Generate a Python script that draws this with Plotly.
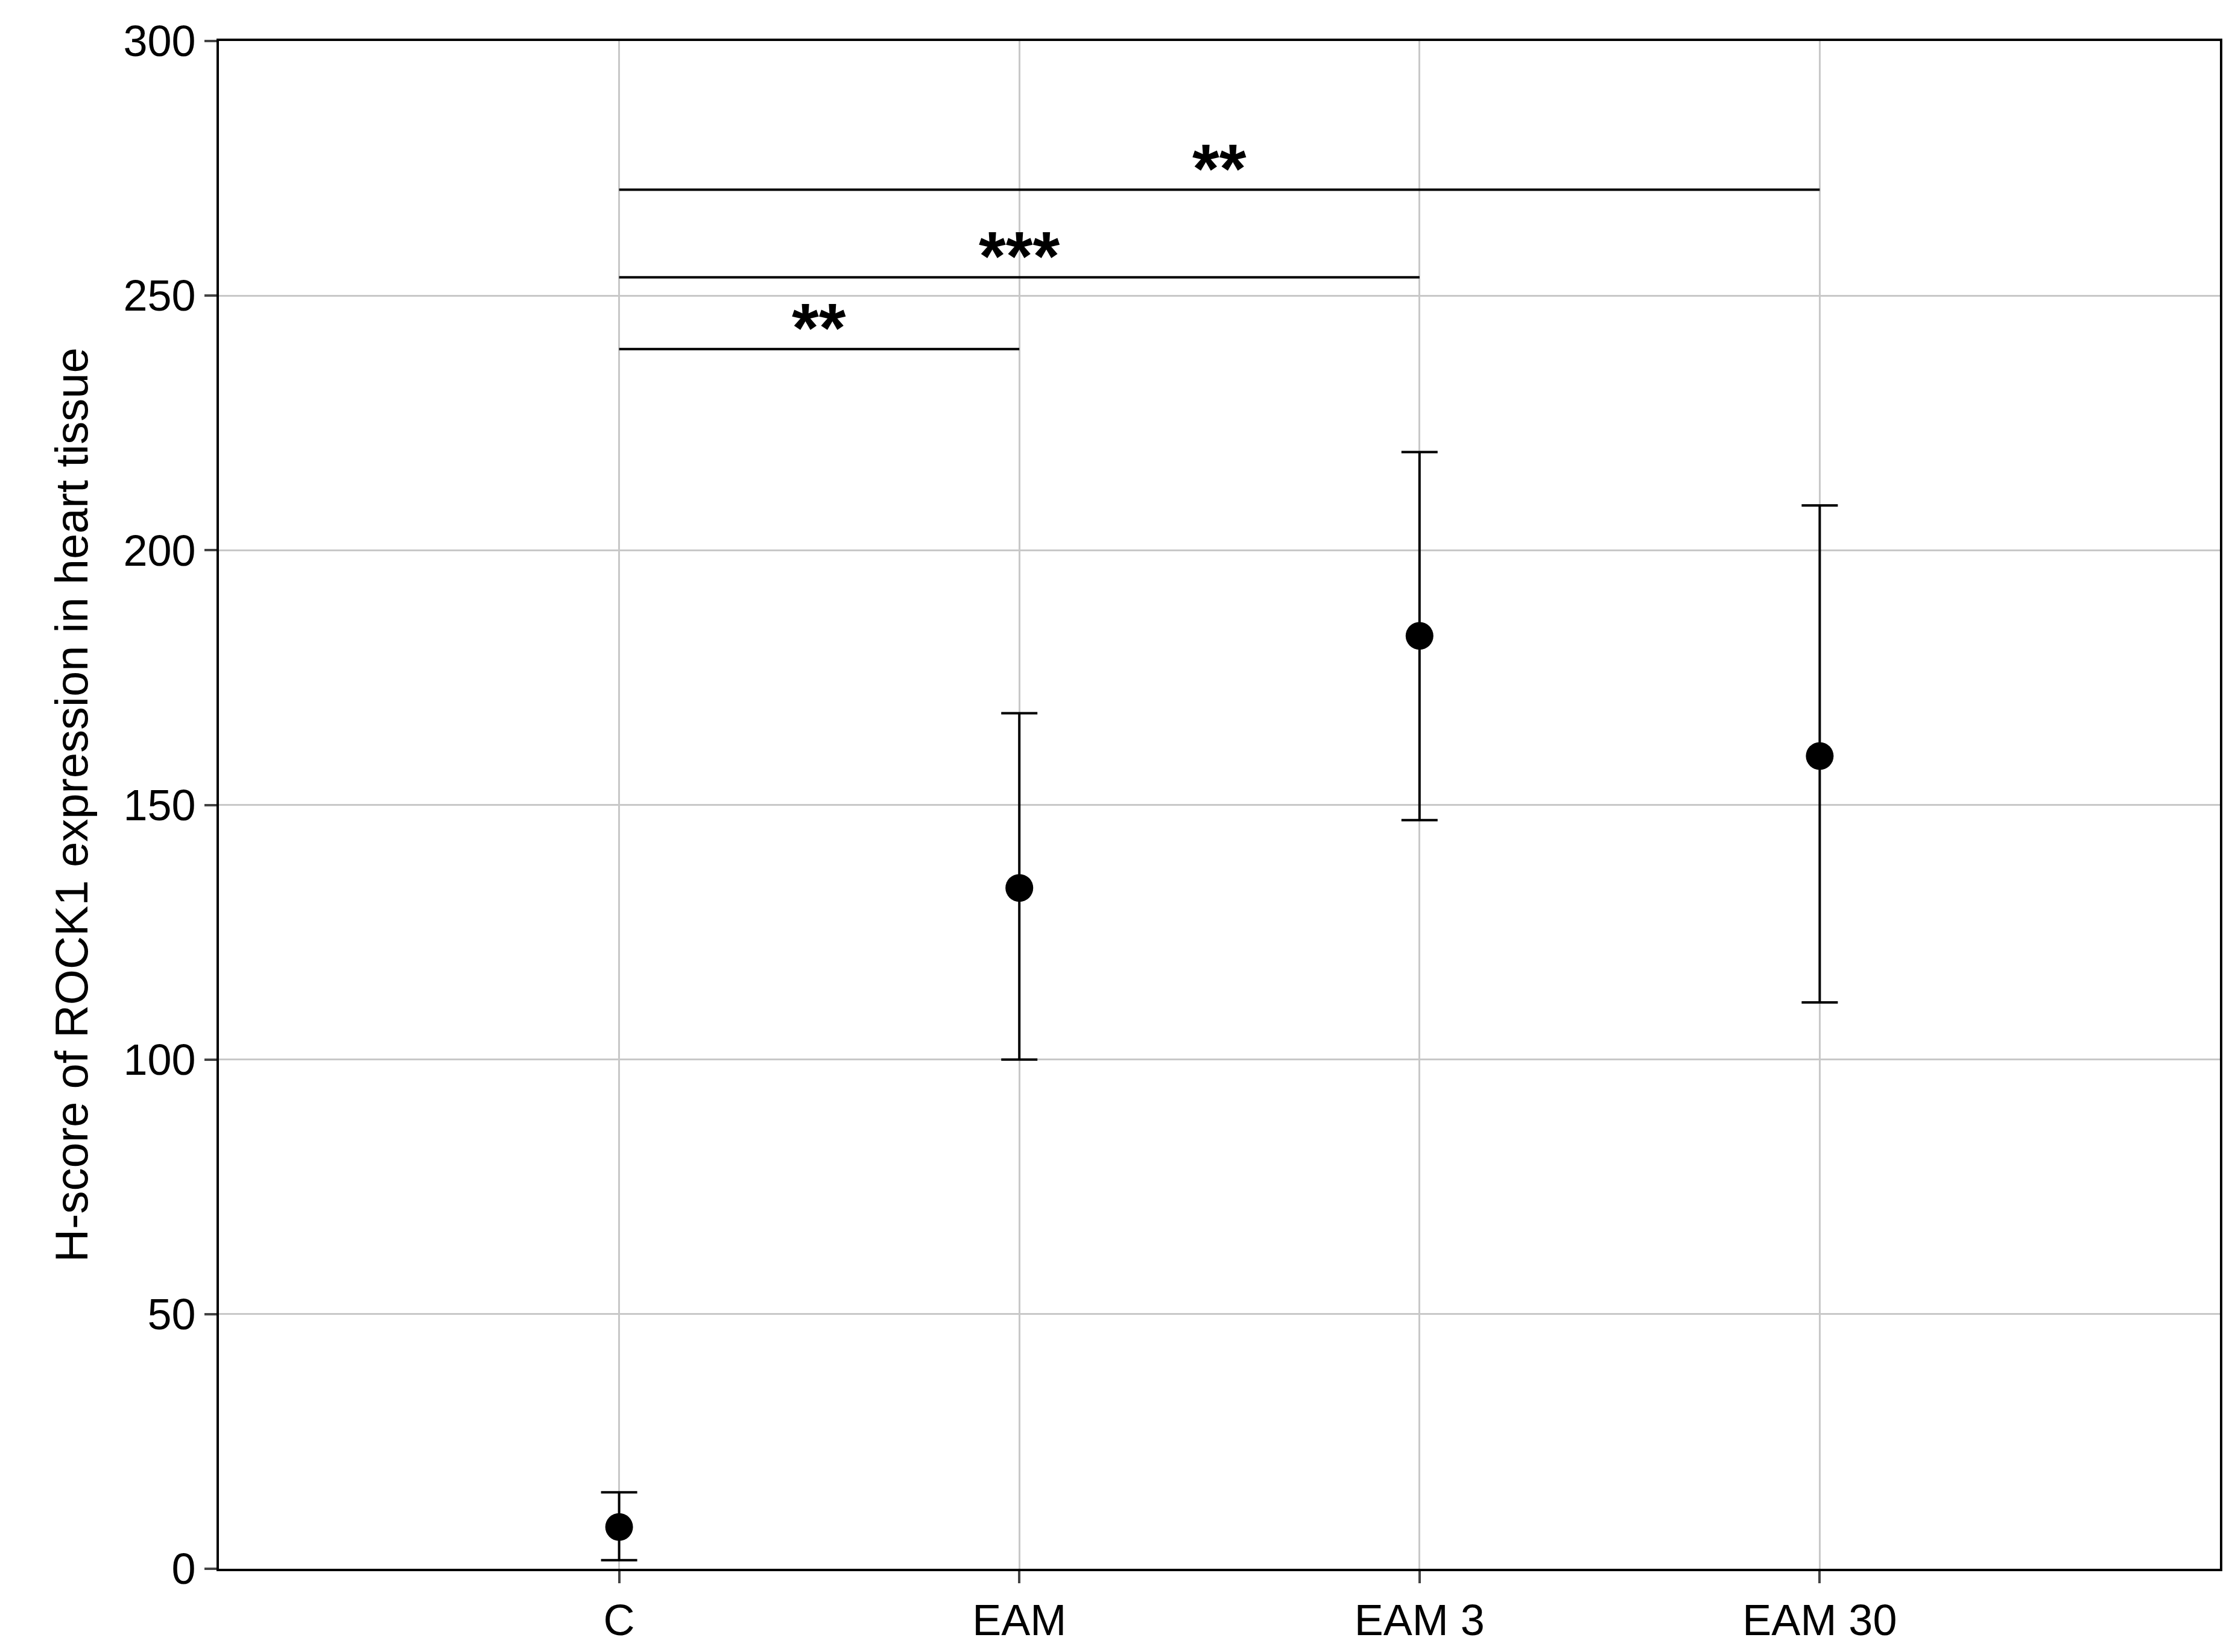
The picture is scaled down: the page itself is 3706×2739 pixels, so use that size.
import plotly.graph_objects as go

groups = ["C", "EAM", "EAM 3", "EAM 30"]
xpos = [1, 2, 3, 4]
means = [8.2, 133.7, 183.2, 159.6]
upper = [15.0, 168.0, 219.3, 208.8]
lower = [1.7, 100.0, 147.0, 111.2]
brackets = [(1, 2, 239.5, "**"), (1, 3, 253.6, "***"), (1, 4, 270.8, "**")]

fig = go.Figure()
fig.add_trace(go.Scatter(
    x=xpos, y=means, mode="markers",
    marker=dict(color="black", size=46),
    error_y=dict(type="data", symmetric=False,
                 array=[u - m for u, m in zip(upper, means)],
                 arrayminus=[m - l for m, l in zip(means, lower)],
                 color="black", thickness=4, width=30),
    showlegend=False))
for x0, x1, y, s in brackets:
    fig.add_shape(type="line", x0=x0, x1=x1, y0=y, y1=y, line=dict(color="black", width=4))
    fig.add_annotation(x=(x0 + x1) / 2, y=y, text="<b>" + s + "</b>", showarrow=False,
                       yanchor="bottom", yshift=-30, font=dict(size=115, color="black"))

fig.update_layout(
    width=3706, height=2739, plot_bgcolor="white", paper_bgcolor="white",
    margin=dict(l=355, r=33, t=60, b=146),
    font=dict(family="Liberation Sans", color="black"),
    xaxis=dict(range=[0, 5], tickvals=xpos, ticktext=groups, showgrid=True,
               gridcolor="#c8c8c8", gridwidth=3, showline=True, mirror=True,
               linecolor="black", linewidth=4, ticks="outside", ticklen=20,
               tickwidth=4, tickfont=dict(size=72), zeroline=False),
    yaxis=dict(range=[0, 300], tickvals=list(range(0, 301, 50)), showgrid=True,
               gridcolor="#c8c8c8", gridwidth=3, showline=True, mirror=True,
               linecolor="black", linewidth=4, ticks="outside", ticklen=20,
               tickwidth=4, tickfont=dict(size=72), zeroline=False,
               title=dict(text="H-score of ROCK1 expression in heart tissue",
                          font=dict(size=76), standoff=35)),
)
fig.write_html("out.html")
